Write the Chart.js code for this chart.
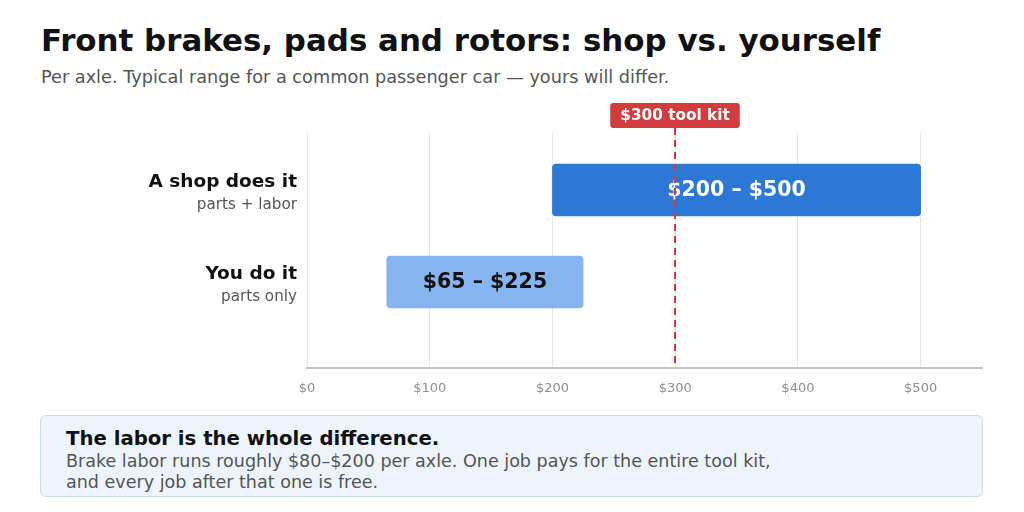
<!DOCTYPE html>
<html>
<head>
<meta charset="utf-8">
<script src="https://cdn.jsdelivr.net/npm/chart.js@4.4.1/dist/chart.umd.min.js"></script>
<style>
  html, body { margin: 0; padding: 0; background: #fff; }
  body { width: 1024px; height: 512px; position: relative; overflow: hidden;
         font-family: "DejaVu Sans", sans-serif; }
  h1 { position: absolute; left: 41px; top: 20px; margin: 0; font-size: 30.9px; font-weight: bold;
       color: #111; line-height: 40px; }
  .sub { position: absolute; left: 41px; top: 66px; margin: 0; font-size: 17.7px; color: #555; line-height: 22px; }
  .chart-wrap { position: absolute; left: 0; top: 95px; width: 1024px; height: 315px; }
  .note { position: absolute; left: 40px; top: 415px; width: 943px; height: 82px; box-sizing: border-box;
          background: #eef4fc; border: 1.5px solid #c5dcf5; border-radius: 6px; padding: 11px 25px; }
  .note b { display: block; font-size: 19.7px; color: #111; line-height: 24px; }
  .note p { margin: 0; font-size: 17.55px; color: #555; line-height: 20.5px; }
</style>
</head>
<body>
<h1>Front brakes, pads and rotors: shop vs. yourself</h1>
<div class="sub">Per axle. Typical range for a common passenger car — yours will differ.</div>
<div class="chart-wrap"><canvas id="chart-range"></canvas></div>
<div class="note">
  <b>The labor is the whole difference.</b>
  <p>Brake labor runs roughly $80–$200 per axle. One job pays for the entire tool kit,<br>and every job after that one is free.</p>
</div>
<script>
/* ------------------------------
 * data
 * ------------------------------ */
const categories = ['A shop does it', 'You do it'];
const subLabels  = ['parts + labor', 'parts only'];
const lowValues  = [200, 65];
const highValues = [500, 225];
const xTicks     = [0, 100, 200, 300, 400, 500];
const toolKit    = 300;

const COLORS = {
  bars:   ['#2b78d5', '#86b4ee'],
  text:   ['#ffffff', '#111111'],
  marker: '#d13c3c',
  grid:   '#e9e7e1',
  axis:   '#c9c6bd',
  tick:   '#8f8f8f'
};

/* ------------------------------
 * category labels (bold + gray second line)
 * ------------------------------ */
const rowLabels = {
  id: 'rowLabels',
  afterDraw(chart) {
    const { ctx } = chart;
    const y = chart.scales.y;
    const right = chart.chartArea.left - 10;
    ctx.save();
    ctx.textAlign = 'right';
    ctx.textBaseline = 'alphabetic';
    categories.forEach((label, i) => {
      const cy = y.getPixelForValue(i);
      ctx.fillStyle = '#111';
      ctx.font = 'bold 18.5px "DejaVu Sans"';
      ctx.fillText(label, right, cy - 3.5);
      ctx.fillStyle = '#555';
      ctx.font = '15.2px "DejaVu Sans"';
      ctx.fillText(subLabels[i], right, cy + 18.5);
    });
    ctx.restore();
  }
};

/* ------------------------------
 * range text inside bars
 * ------------------------------ */
const barText = {
  id: 'barText',
  afterDatasetsDraw(chart) {
    const { ctx } = chart;
    const meta = chart.getDatasetMeta(0);
    ctx.save();
    ctx.textAlign = 'center';
    ctx.textBaseline = 'middle';
    ctx.font = 'bold 20.5px "DejaVu Sans"';
    meta.data.forEach((bar, i) => {
      const cx = (bar.x + bar.base) / 2;
      ctx.fillStyle = COLORS.text[i];
      ctx.fillText(`$${lowValues[i]} – $${highValues[i]}`, cx, bar.y + 1);
    });
    ctx.restore();
  }
};

/* ------------------------------
 * $300 tool kit marker
 * ------------------------------ */
const kitLine = {
  id: 'kitLine',
  afterDraw(chart) {
    const { ctx, chartArea } = chart;
    const x = Math.round(chart.scales.x.getPixelForValue(toolKit));
    ctx.save();
    ctx.strokeStyle = COLORS.marker;
    ctx.lineWidth = 2;
    ctx.setLineDash([7, 5]);
    ctx.beginPath();
    ctx.moveTo(x, chartArea.top - 5);
    ctx.lineTo(x, chartArea.bottom);
    ctx.stroke();
    ctx.setLineDash([]);

    const text = `$${toolKit} tool kit`;
    ctx.font = 'bold 15.3px "DejaVu Sans"';
    const w = ctx.measureText(text).width + 20;
    const h = 25;
    const top = chartArea.top - 30;
    ctx.fillStyle = COLORS.marker;
    ctx.beginPath();
    ctx.roundRect(x - w / 2, top, w, h, 3);
    ctx.fill();
    ctx.fillStyle = '#fff';
    ctx.textAlign = 'center';
    ctx.textBaseline = 'middle';
    ctx.fillText(text, x, top + h / 2 + 1);
    ctx.restore();
  }
};

const chartRange = new Chart(document.getElementById('chart-range'), {
  type: 'bar',
  plugins: [rowLabels, barText, kitLine],
  data: {
    datasets: [{
      data: categories.map((c, i) => ({ y: i, x: [lowValues[i], highValues[i]] })),
      backgroundColor: COLORS.bars,
      borderRadius: 4,
      borderSkipped: false,
      barThickness: 52
    }]
  },
  options: {
    indexAxis: 'y',
    responsive: true,
    maintainAspectRatio: false,
    animation: false,
    layout: { padding: { left: 307, right: 42, top: 38, bottom: 0.4 } },
    scales: {
      x: {
        type: 'linear',
        min: 0,
        max: 550,
        afterBuildTicks: (axis) => { axis.ticks = xTicks.map(v => ({ value: v })); },
        grid: { color: COLORS.grid, lineWidth: 1, drawTicks: false },
        border: { color: COLORS.axis, width: 2 },
        ticks: {
          padding: 13,
          color: COLORS.tick,
          font: { family: 'DejaVu Sans', size: 13 },
          callback: (v) => '$' + v
        }
      },
      y: {
        type: 'linear',
        reverse: true,
        offset: false,
        min: -0.62,
        max: 1.935,
        display: false
      }
    },
    plugins: {
      legend: { display: false },
      tooltip: { enabled: false }
    }
  }
});
</script>
</body>
</html>
